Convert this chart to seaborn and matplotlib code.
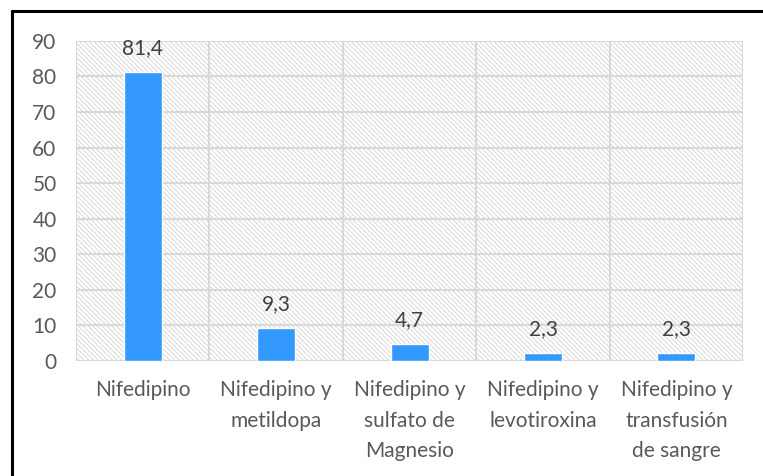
import numpy as np
import pandas as pd
import seaborn as sns
import matplotlib.pyplot as plt
from matplotlib.patches import Rectangle
from matplotlib.lines import Line2D

# Data
categories = ["Nifedipino", "Nifedipino y\nmetildopa", "Nifedipino y\nsulfato de\nMagnesio",
              "Nifedipino y\nlevotiroxina", "Nifedipino y\ntransfusión\nde sangre"]
values = [81.4, 9.3, 4.7, 2.3, 2.3]
value_labels = ["81,4", "9,3", "4,7", "2,3", "2,3"]
y_ticks = [0, 10, 20, 30, 40, 50, 60, 70, 80, 90]

sns.set_style("white")
plt.rcParams['font.family'] = ['Lato', 'DejaVu Sans']
plt.rcParams['hatch.color'] = '#d2d2d2'
plt.rcParams['hatch.linewidth'] = 0.6

df = pd.DataFrame({'cat': categories, 'val': values})

fig = plt.figure(figsize=(7.63, 4.76), dpi=100)
ax = fig.add_axes([0.0996, 0.2416, 0.8744, 0.6724])

# Hatched background
bg = Rectangle((0, 0), 1, 1, transform=ax.transAxes, facecolor='white',
               edgecolor='#d2d2d2', hatch='\\' * 7, linewidth=0, zorder=0)
ax.add_patch(bg)

sns.barplot(data=df, x='cat', y='val', color='#3399ff', width=0.285,
            saturation=1, ax=ax, zorder=3)

ax.set_xlim(-0.5, 4.5)
ax.set_ylim(0, 90)
ax.set_yticks(y_ticks)

# Grid lines
for y in y_ticks:
    ax.axhline(y, color='#d9d9d9', linewidth=1.5, zorder=1)
for x in np.arange(-0.5, 5, 1):
    ax.axvline(x, color='#d9d9d9', linewidth=1.5, zorder=1)

for s in ax.spines.values():
    s.set_visible(False)

for i, (v, lab) in enumerate(zip(values, value_labels)):
    ax.annotate(lab, (i, v), xytext=(0, 10), textcoords='offset points',
                ha='center', va='bottom', fontsize=15, color='#404040', zorder=4)

ax.set_xlabel('')
ax.set_ylabel('')
ax.tick_params(axis='both', length=0, labelsize=15, labelcolor='#595959')
ax.tick_params(axis='x', pad=14)
ax.tick_params(axis='y', pad=14)
for t in ax.get_xticklabels():
    t.set_linespacing(1.65)

# Black frame (left and top edges visible)
fig.add_artist(Line2D([12 / 763, 12 / 763], [0, 1 - 11 / 476], color='black', linewidth=2.2))
fig.add_artist(Line2D([12 / 763, 1], [1 - 11 / 476, 1 - 11 / 476], color='black', linewidth=2.2))

fig.savefig('out.png', dpi=100)
